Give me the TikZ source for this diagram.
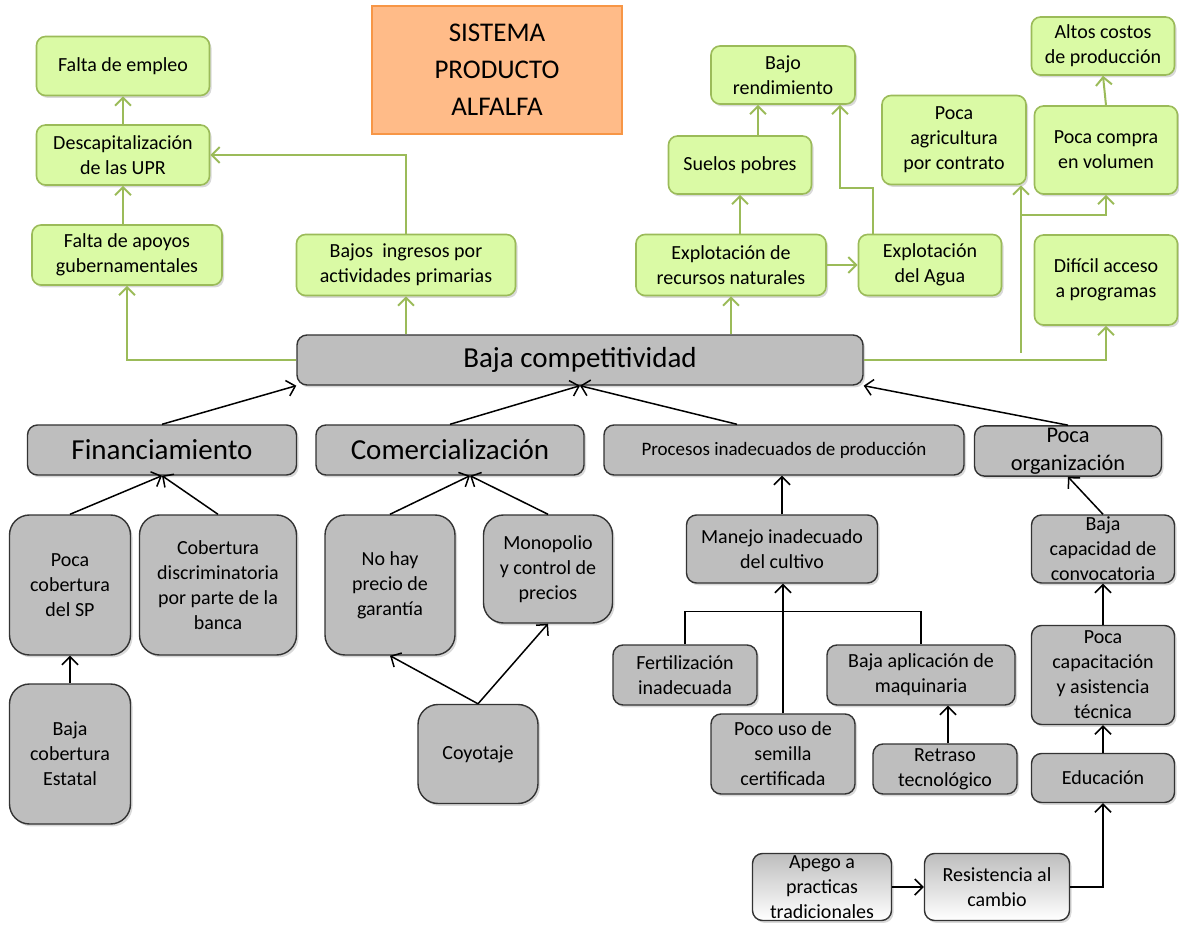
\documentclass[tikz,border=0pt]{standalone}
\usepackage{fontspec}
\setmainfont{Carlito}
\usetikzlibrary{arrows.meta,shadows}

\definecolor{leafgreen}{RGB}{218,250,165}
\definecolor{linegreen}{RGB}{155,187,89}
\definecolor{titleorange}{RGB}{255,187,136}
\definecolor{edgeorange}{RGB}{247,150,70}
\definecolor{boxgray}{RGB}{190,190,190}

\begin{document}
\begin{tikzpicture}[
  x=0.5pt, y=-0.5pt,
  every node/.style={align=center, inner sep=1pt, font=\fontsize{10}{12.5}\selectfont},
  title/.style={shape=rectangle, draw=edgeorange, fill=titleorange, line width=0.8pt,
    font=\fontsize{13.5}{18.5}\selectfont},
  effect/.style={shape=rectangle, rounded corners=4.5pt, draw=linegreen, fill=leafgreen,
    line width=0.8pt, drop shadow={shadow xshift=1pt, shadow yshift=-1.2pt, opacity=0.3}},
  cause/.style={shape=rectangle, rounded corners=5pt, draw=black!80, fill=boxgray,
    line width=0.7pt, drop shadow={shadow xshift=1pt, shadow yshift=-1.2pt, opacity=0.3}},
  tall/.style={cause, rounded corners=10pt},
  faded/.style={cause, top color=boxgray, middle color=boxgray!90, bottom color=white},
  big/.style={font=\fontsize{14.5}{17}\selectfont},
  garrow/.style={draw=linegreen, line width=1pt, -{Straight Barb[length=4pt,width=8pt]}},
  barrow/.style={draw=black, line width=0.75pt, -{Straight Barb[length=4pt,width=8pt]}}
]
\useasboundingbox (0,0) rectangle (1179,925);

% title
\node [title, minimum width=125pt, minimum height=64pt] (sys) at (497,70) {SISTEMA\\PRODUCTO\\ALFALFA};

% effects
\node [effect, minimum width=86.5pt, minimum height=29.5pt] (empleo) at (123,66) {Falta de empleo};
\node [effect, minimum width=86.5pt, minimum height=30pt] (descap) at (123,155) {Descapitalización\\de las UPR};
\node [effect, minimum width=95pt, minimum height=30pt] (apoyos) at (127,255) {Falta de apoyos\\gubernamentales};
\node [effect, minimum width=109.5pt, minimum height=30.5pt] (ingresos) at (406,265) {Bajos\ \ ingresos por\\actividades primarias};
\node [effect, minimum width=72pt, minimum height=29pt] (rend) at (783,75) {Bajo\\rendimiento};
\node [effect, minimum width=71.5pt, minimum height=29pt] (suelos) at (740,165) {Suelos pobres};
\node [effect, minimum width=95pt, minimum height=30.5pt] (recursos) at (731,265) {Explotación de\\recursos naturales};
\node [effect, minimum width=71.5pt, minimum height=30.5pt] (agua) at (930,265) {Explotación\\del Agua};
\node [effect, minimum width=72pt, minimum height=44.5pt] (contrato) at (954,140) {Poca\\agricultura\\por contrato};
\node [effect, minimum width=71.5pt, minimum height=29pt] (costos) at (1103,46) {Altos costos\\de producción};
\node [effect, minimum width=71.5pt, minimum height=44pt] (compra) at (1106,150) {Poca compra\\en volumen};
\node [effect, minimum width=71.5pt, minimum height=45pt] (acceso) at (1106,280) {Difícil acceso\\a programas};

% problem and causes
\node [cause, big, minimum width=283pt, minimum height=25pt] (comp) at (580,360) {Baja competitividad};
\node [cause, big, minimum width=134.5pt, minimum height=25pt] (finan) at (162,450) {Financiamiento};
\node [cause, big, minimum width=134pt, minimum height=25pt] (comer) at (450,450) {Comercialización};
\node [cause, minimum width=180pt, minimum height=25pt, font=\fontsize{9.5}{12}\selectfont] (proc) at (784,450) {Procesos inadecuados de producción};
\node [cause, minimum width=93.5pt, minimum height=25pt, font=\fontsize{11.2}{14}\selectfont] (org) at (1068,451) {Poca\\organización};

\node [tall, minimum width=60.5pt, minimum height=70pt] (cobsp) at (70,585) {Poca\\cobertura\\del SP};
\node [tall, minimum width=78.5pt, minimum height=70pt] (discr) at (218,585) {Cobertura\\discriminatoria\\por parte de la\\banca};
\node [tall, minimum width=60.5pt, minimum height=70pt] (estatal) at (70,754) {Baja\\cobertura\\Estatal};
\node [tall, minimum width=65pt, minimum height=70pt] (precio) at (390,585) {No hay\\precio de\\garantía};
\node [tall, minimum width=64.5pt, minimum height=54pt] (monop) at (548,569) {Monopolio\\y control de\\precios};
\node [tall, minimum width=60pt, minimum height=49.5pt] (coyo) at (478,754) {Coyotaje};

\node [cause, minimum width=95.5pt, minimum height=34pt] (manejo) at (782,549) {Manejo inadecuado\\del cultivo};
\node [cause, minimum width=72pt, minimum height=30pt] (fert) at (685,675) {Fertilización\\inadecuada};
\node [cause, minimum width=72pt, minimum height=40pt] (semilla) at (783,754) {Poco uso de\\semilla\\certificada};
\node [cause, minimum width=94pt, minimum height=30pt] (maqui) at (921,675) {Baja aplicación de\\maquinaria};
\node [cause, minimum width=72pt, minimum height=25pt] (retraso) at (945,769) {Retraso\\tecnológico};

\node [cause, minimum width=71.5pt, minimum height=34pt] (convoc) at (1103,549) {Baja\\capacidad de\\convocatoria};
\node [cause, minimum width=71.5pt, minimum height=49.5pt] (capac) at (1103,675) {Poca\\capacitación\\y asistencia\\técnica};
\node [cause, minimum width=71.5pt, minimum height=24.5pt] (educ) at (1103,778) {Educación};
\node [faded, minimum width=69.5pt, minimum height=33.5pt] (apego) at (822,887) {Apego a\\practicas\\tradicionales};
\node [faded, minimum width=72.5pt, minimum height=33.5pt] (resist) at (997,887) {Resistencia al\\cambio};

% effects of low competitiveness
\draw [garrow] (comp.west) -| (apoyos.south);
\draw [garrow] (comp.north -| ingresos) -- (ingresos.south);
\draw [garrow] (ingresos.north) |- (descap.east);
\draw [garrow] (apoyos.north -| descap) -- (descap.south);
\draw [garrow] (descap.north) -- (empleo.south);
\draw [garrow] (comp.north -| recursos) -- (recursos.south);
\draw [garrow] (recursos.north -| suelos) -- (suelos.south);
\draw [garrow] ([xshift=9pt]suelos.north) -- ([xshift=-12.5pt]rend.south);
\draw [garrow] (recursos.east) -- (agua.west);
\draw [garrow] ([xshift=-28.5pt]agua.north) -- ++(0,-46) -| ([xshift=28.5pt]rend.south);
\draw [garrow] (comp.east) -| (acceso.south);
\coordinate (split) at (1021,353);
\coordinate (fork) at (1021,215);
\draw [garrow] (split) -- (split |- contrato.south);
\draw [garrow] (fork) -| (compra.south);
\draw [garrow] (compra.north) -- (costos.south);

% causes
\draw [barrow] (finan.north) -- (comp.south west);
\draw [barrow] (comer.north) -- (comp.south);
\draw [barrow] ([xshift=-23.5pt]proc.north) -- (comp.south);
\draw [barrow] (org.north) -- (comp.south east);
\draw [barrow] (cobsp.north) -- (finan.south);
\draw [barrow] (discr.north) -- (finan.south);
\draw [barrow] (estatal.north) -- (cobsp.south);
\draw [barrow] (precio.north) -- ([xshift=10pt]comer.south);
\draw [barrow] (monop.north) -- ([xshift=10pt]comer.south);
\draw [barrow] (coyo.north) -- (precio.south);
\draw [barrow] (coyo.north) -- (monop.south);
\draw [barrow] (manejo.north) -- (manejo.north |- proc.south);
\draw [barrow] (semilla.north) -- (semilla.north |- manejo.south);
\draw [line width=0.75pt] (fert.north) -- ++(0,-33) -| (maqui.north);
\draw [barrow] ([xshift=1.5pt]retraso.north) -- ([xshift=1.5pt]retraso.north |- maqui.south);
\draw [barrow] (convoc.north) -- (org.south);
\draw [barrow] (capac.north) -- (convoc.south);
\draw [barrow] (educ.north) -- (capac.south);
\draw [barrow] (apego.east) -- (resist.west);
\draw [barrow] (resist.east) -| (educ.south);
\end{tikzpicture}
\end{document}
